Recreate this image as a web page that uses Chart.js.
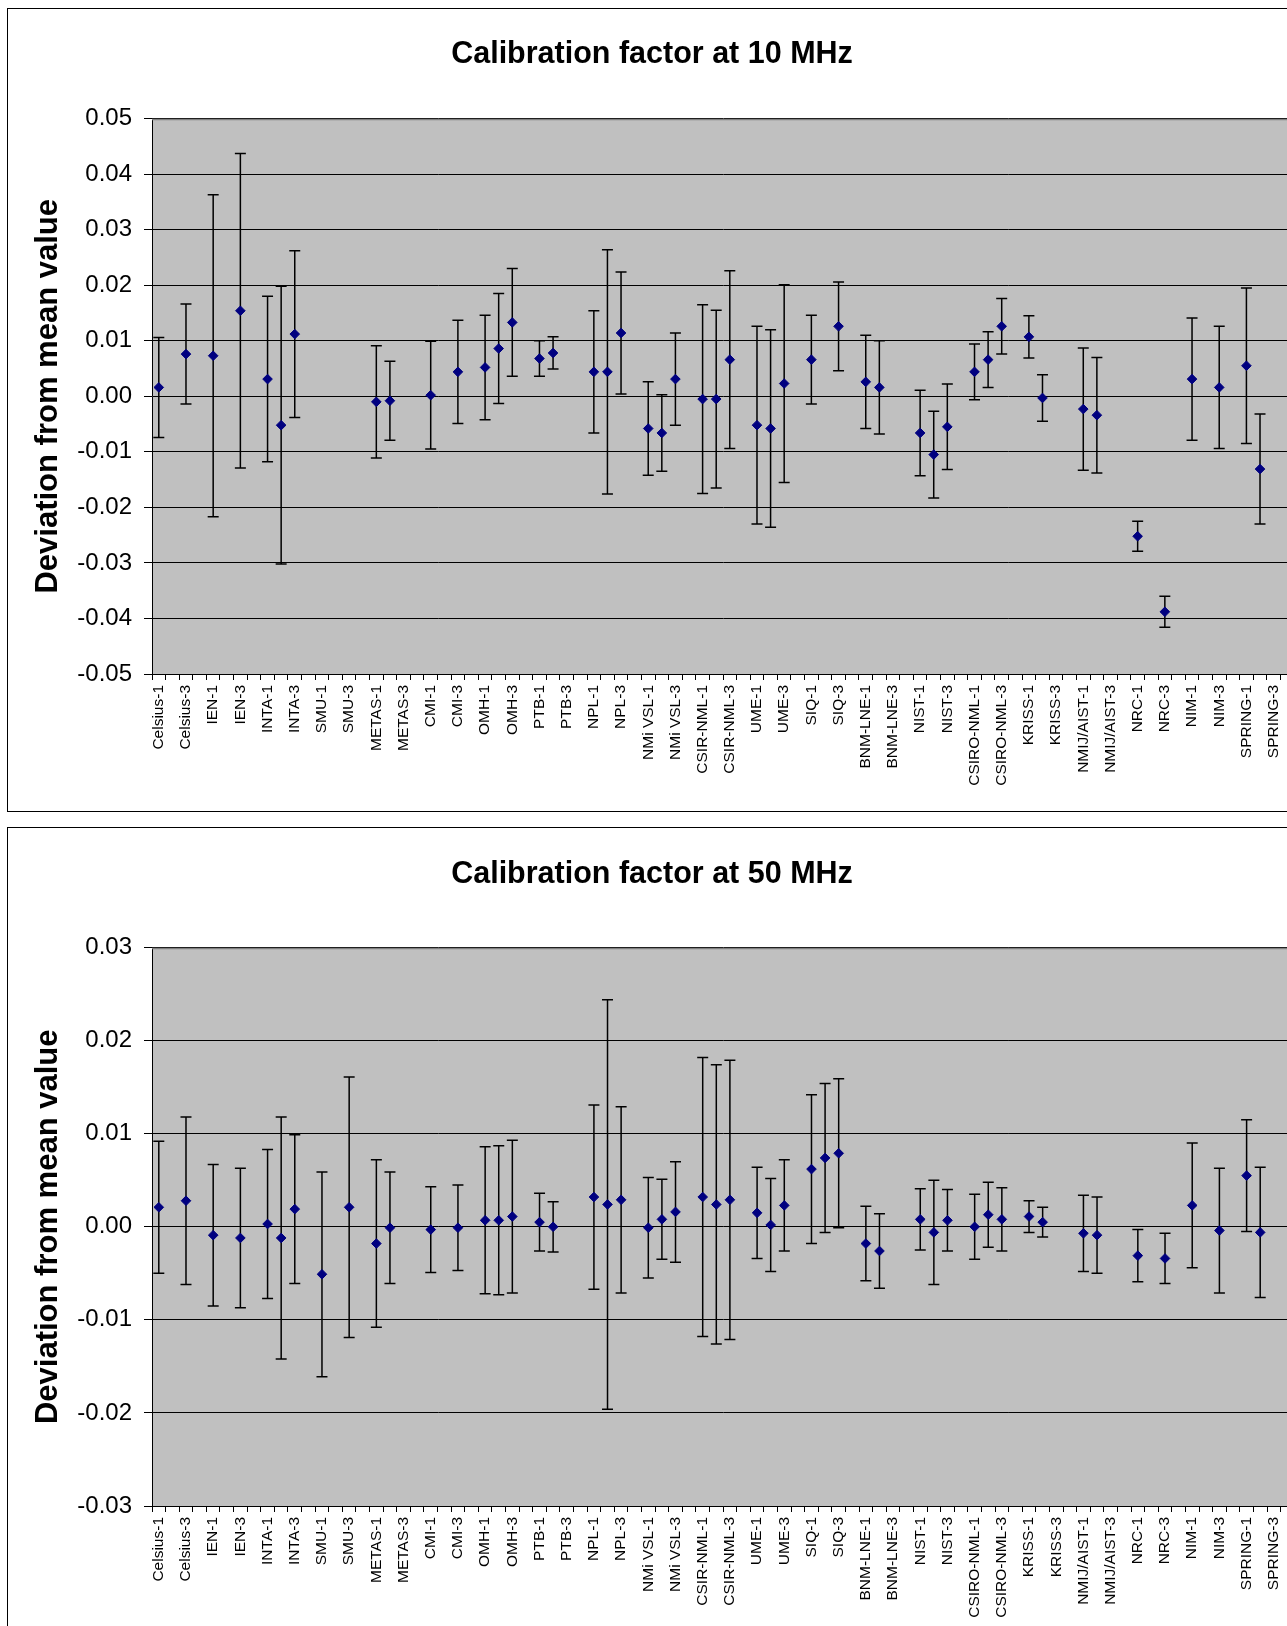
<!DOCTYPE html>
<html>
<head>
<meta charset="utf-8">
<script src="https://cdn.jsdelivr.net/npm/chart.js@4.4.0/dist/chart.umd.min.js"></script>
<style>
  html, body { margin: 0; padding: 0; background: #fff; overflow: hidden; width: 1287px; height: 1626px; position: relative; }
  .panel { position: absolute; border: 1.5px solid #000; box-sizing: border-box; pointer-events: none; }
  canvas { position: absolute; left: 0; }
</style>
</head>
<body>
<div class="panel" style="left:7px; top:7.5px; width:1310px; height:804px;"></div>
<div class="panel" style="left:7px; top:827px; width:1310px; height:830px;"></div>
<canvas id="c10" width="1300" height="811" style="top:0"></canvas>
<canvas id="c50" width="1300" height="798" style="top:828px"></canvas>

<script>
// labs and the four slots per lab (only odd ones get a printed label)
const labs = ['Celsius', 'IEN', 'INTA', 'SMU', 'METAS', 'CMI', 'OMH', 'PTB', 'NPL', 'NMi VSL',
  'CSIR-NML', 'UME', 'SIQ', 'BNM-LNE', 'NIST', 'CSIRO-NML', 'KRISS', 'NMIJ/AIST', 'NRC', 'NIM', 'SPRING'];
const runs = ['-1', '-2', '-3', '-4'];
const categories = labs.flatMap(l => runs.map(r => l + r));

// 10 MHz deviation from mean value, 4 slots per lab
const dev10 = [
  0.0016, null, 0.0076, null,      // Celsius
  0.0073, null, 0.0154, null,      // IEN
  0.0031, -0.0052, 0.0112, null,   // INTA
  null, null, null, null,          // SMU
  -0.0010, -0.0008, null, null,    // METAS
  0.0002, null, 0.0044, null,      // CMI
  0.0052, 0.0086, 0.0133, null,    // OMH
  0.0068, 0.0078, null, null,      // PTB
  0.0044, 0.0044, 0.0114, null,    // NPL
  -0.0058, -0.0066, 0.0031, null,  // NMi VSL
  -0.0005, -0.0005, 0.0066, null,  // CSIR-NML
  -0.0052, -0.0058, 0.0023, null,  // UME
  0.0066, null, 0.0126, null,      // SIQ
  0.0026, 0.0016, null, null,      // BNM-LNE
  -0.0066, -0.0105, -0.0055, null, // NIST
  0.0044, 0.0066, 0.0126, null,    // CSIRO-NML
  0.0107, -0.0003, null, null,     // KRISS
  -0.0023, -0.0034, null, null,    // NMIJ/AIST
  -0.0252, null, -0.0388, null,    // NRC
  0.0031, null, 0.0016, null,      // NIM
  0.0055, -0.0131, null, null      // SPRING
];
// 10 MHz uncertainty (half length of the error bar)
const unc10 = [
  0.0090, null, 0.0090, null,
  0.0290, null, 0.0283, null,
  0.0149, 0.0250, 0.0150, null,
  null, null, null, null,
  0.0101, 0.0071, null, null,
  0.0097, null, 0.0093, null,
  0.0094, 0.0099, 0.0097, null,
  0.0032, 0.0029, null, null,
  0.0110, 0.0220, 0.0110, null,
  0.0084, 0.0069, 0.0083, null,
  0.0170, 0.0160, 0.0160, null,
  0.0178, 0.0178, 0.0178, null,
  0.0080, null, 0.0080, null,
  0.0084, 0.0084, null, null,
  0.0077, 0.0078, 0.0077, null,
  0.0050, 0.0050, 0.0050, null,
  0.0038, 0.0042, null, null,
  0.0110, 0.0104, null, null,
  0.0027, null, 0.0028, null,
  0.0110, null, 0.0110, null,
  0.0140, 0.0099, null, null
];

// 50 MHz
const dev50 = [
  0.0021, null, 0.0028, null,
  -0.0009, null, -0.0012, null,
  0.0003, -0.0012, 0.0019, null,
  -0.0051, null, 0.0021, null,
  -0.0018, -0.0001, null, null,
  -0.0003, null, -0.0001, null,
  0.0007, 0.0007, 0.0011, null,
  0.0005, 0.0000, null, null,
  0.0032, 0.0024, 0.0029, null,
  -0.0001, 0.0008, 0.0016, null,
  0.0032, 0.0024, 0.0029, null,
  0.0015, 0.0002, 0.0023, null,
  0.0062, 0.0074, 0.0079, null,
  -0.0018, -0.0026, null, null,
  0.0008, -0.0006, 0.0007, null,
  0.0000, 0.0013, 0.0008, null,
  0.0011, 0.0005, null, null,
  -0.0007, -0.0009, null, null,
  -0.0031, null, -0.0034, null,
  0.0023, null, -0.0004, null,
  0.0055, -0.0006, null, null
];
const unc50 = [
  0.0071, null, 0.0090, null,
  0.0076, null, 0.0075, null,
  0.0080, 0.0130, 0.0080, null,
  0.0110, null, 0.0140, null,
  0.0090, 0.0060, null, null,
  0.0046, null, 0.0046, null,
  0.0079, 0.0080, 0.0082, null,
  0.0031, 0.0027, null, null,
  0.0099, 0.0220, 0.0100, null,
  0.0054, 0.0043, 0.0054, null,
  0.0150, 0.0150, 0.0150, null,
  0.0049, 0.0050, 0.0049, null,
  0.0080, 0.0080, 0.0080, null,
  0.0040, 0.0040, null, null,
  0.0033, 0.0056, 0.0033, null,
  0.0035, 0.0035, 0.0034, null,
  0.0017, 0.0016, null, null,
  0.0041, 0.0041, null, null,
  0.0028, null, 0.0027, null,
  0.0067, null, 0.0067, null,
  0.0060, 0.0070, null, null
];

const yRange10 = [-0.05, 0.05];
const yRange50 = [-0.03, 0.03];
const yStep = 0.01;

const FONT = "'Liberation Sans', Arial, sans-serif";

// grey plot area like the Excel original
const plotBackground = {
  id: 'plotBackground',
  beforeDraw(chart) {
    const { ctx, chartArea: a } = chart;
    ctx.save();
    ctx.fillStyle = '#c0c0c0';
    ctx.fillRect(a.left, a.top, a.right - a.left, a.bottom - a.top);
    ctx.restore();
  },
  beforeDatasetsDraw(chart) {
    const { ctx, chartArea: a } = chart;
    ctx.save();
    ctx.strokeStyle = '#808080';
    ctx.lineWidth = 1.5;
    ctx.beginPath();
    ctx.moveTo(a.left, Math.round(a.top) + 0.5);
    ctx.lineTo(a.right, Math.round(a.top) + 0.5);
    ctx.lineTo(a.right, a.bottom);
    ctx.stroke();
    ctx.restore();
  }
};

// vertical error bars, drawn under the markers
const errorBars = {
  id: 'errorBars',
  beforeDatasetsDraw(chart) {
    const ctx = chart.ctx;
    const y = chart.scales.y;
    chart.data.datasets.forEach((ds, di) => {
      const meta = chart.getDatasetMeta(di);
      ctx.save();
      ctx.strokeStyle = '#000';
      ctx.lineWidth = 1.5;
      ds.data.forEach((v, i) => {
        if (v == null || ds.unc[i] == null) return;
        const x = meta.data[i].x;
        const yt = y.getPixelForValue(v + ds.unc[i]);
        const yb = y.getPixelForValue(v - ds.unc[i]);
        ctx.beginPath();
        ctx.moveTo(x, yt); ctx.lineTo(x, yb);
        ctx.moveTo(x - 5.5, yt); ctx.lineTo(x + 5.5, yt);
        ctx.moveTo(x - 5.5, yb); ctx.lineTo(x + 5.5, yb);
        ctx.stroke();
      });
      ctx.restore();
    });
  }
};

function makeChart(id, title, dev, unc, range, box) {
  return new Chart(document.getElementById(id), {
    type: 'line',
    data: {
      labels: categories,
      datasets: [{
        data: dev,
        unc: unc,
        showLine: false,
        pointStyle: 'rectRot',
        pointRadius: 4.8,
        pointHoverRadius: 4.8,
        pointBackgroundColor: '#000080',
        pointBorderColor: '#000080',
        pointBorderWidth: 1
      }]
    },
    options: {
      responsive: false,
      animation: false,
      events: [],
      layout: { padding: { left: box.padL, right: box.padR, top: 0, bottom: 0 } },
      plugins: {
        legend: { display: false },
        tooltip: { enabled: false },
        title: {
          display: true,
          text: title,
          color: '#000',
          font: { family: FONT, size: 30.5, weight: 'bold' },
          padding: { top: box.titleTop, bottom: box.titleBottom }
        }
      },
      scales: {
        x: {
          type: 'category',
          offset: true,
          grid: { offset: true, drawOnChartArea: false, drawTicks: true, tickLength: 6, color: '#000', lineWidth: 1 },
          border: { color: '#000', width: 1 },
          ticks: {
            autoSkip: false,
            minRotation: 90,
            maxRotation: 90,
            padding: 5,
            color: '#000',
            font: { family: FONT, size: 15.5 },
            callback: (v, i) => (i % 2 === 0 ? categories[i] : '')
          },
          afterFit: s => { s.height = box.xH; s.paddingLeft = 0; s.paddingRight = 0; }
        },
        y: {
          min: range[0],
          max: range[1],
          grid: { color: '#000', lineWidth: 1, tickLength: 8 },
          border: { color: '#000', width: 1 },
          ticks: {
            stepSize: yStep,
            padding: 12,
            color: '#000',
            font: { family: FONT, size: 24 },
            callback: v => (Math.abs(v) < 1e-9 ? 0 : v).toFixed(2)
          },
          title: {
            display: true,
            text: 'Deviation from mean value',
            color: '#000',
            font: { family: FONT, size: 31, weight: 'bold' },
            padding: { top: box.yTitlePad, bottom: 0 }
          },
          afterFit: s => { s.width = box.yW; }
        }
      }
    },
    plugins: [plotBackground, errorBars]
  });
}

// the plot areas run a few pixels past the right edge of the page, as in the original
makeChart('c10', 'Calibration factor at 10 MHz', dev10, unc10, yRange10,
  { padL: 10, padR: 6, yW: 142, xH: 137, titleTop: 36, titleBottom: 46, yTitlePad: 20 });
makeChart('c50', 'Calibration factor at 50 MHz', dev50, unc50, yRange50,
  { padL: 9, padR: 5, yW: 143, xH: 120, titleTop: 28, titleBottom: 55, yTitlePad: 21 });
</script>
</body>
</html>
